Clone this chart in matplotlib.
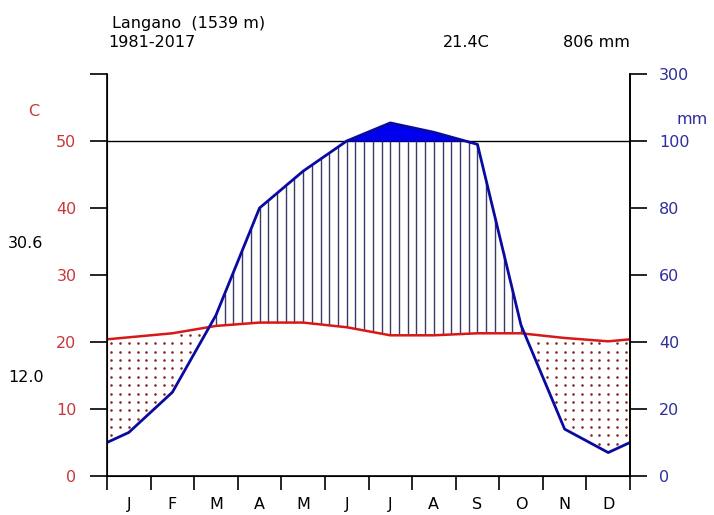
import matplotlib
matplotlib.use('Agg')
import matplotlib.pyplot as plt
import numpy as np

# Данные (Langano, 1981-2017)
months = ['J', 'F', 'M', 'A', 'M', 'J', 'J', 'A', 'S', 'O', 'N', 'D']
temp = [20.7, 21.3, 22.4, 22.9, 22.9, 22.2, 21.0, 21.0, 21.3, 21.3, 20.6, 20.1]
prec = [13, 25, 48, 80, 91, 100, 154, 126, 99, 45, 14, 7]
left_ticks = ['0', '10', '20', '30', '40', '50', '']
right_ticks = ['0', '20', '40', '60', '80', '100', '300']

plt.rcParams['font.family'] = ['DejaVu Sans']
tcol = '#C8373A'
pcol = '#2E2E9A'
fs = 11.5

def scale_p(p):
    p = np.asarray(p, float)
    return np.where(p <= 100, p / 2.0, 50 + (p - 100) / 20.0)

# Точки на серединах месяцев + края (среднее дек/янв)
xc = np.arange(12) + 0.5
x = np.concatenate([[0], xc, [12]])
t_edge = (temp[0] + temp[-1]) / 2
p_edge = (prec[0] + prec[-1]) / 2
t = np.concatenate([[t_edge], temp, [t_edge]])
p = scale_p(np.concatenate([[p_edge], prec, [p_edge]]))

fig = plt.figure(figsize=(7.14, 5.15), dpi=100)
ax = fig.add_axes([107 / 714, 1 - 476 / 515, 523 / 714, 402 / 515])
ax.set_xlim(0, 12)
ax.set_ylim(0, 60)

# Влажный период - вертикальные линии
xf = np.arange(0.1, 12, 0.2)
tf = np.interp(xf, x, t)
pf = np.interp(xf, x, p)
wet = pf > tf
ax.vlines(xf[wet], tf[wet], np.minimum(pf[wet], 50), color='#3A3A6A', lw=1.0, zorder=2)

# Выше 100 мм - сплошная заливка
xs = np.linspace(0, 12, 2401)
ps = np.interp(xs, x, p)
ax.fill_between(xs, 50, ps, where=ps > 50, color='#0000EE', lw=0, zorder=3)

# Засушливый период - точки
yd = np.arange(1.05, 30, 1.25)
dx, dy = np.meshgrid(xf, yd)
dt = np.interp(dx, x, t)
dp = np.interp(dx, x, p)
dry = (dy < dt - 0.4) & (dy > dp + 0.6)
ax.scatter(dx[dry], dy[dry], s=3.5, marker='o', color='#8B2525', lw=0, zorder=2)

ax.axhline(50, color='black', lw=1.0, zorder=1)
ax.plot(x, t, color='#D81818', lw=1.8, zorder=4)
ax.plot(x, p, color='#0A0AA0', lw=2, zorder=4)

ax.spines['top'].set_visible(False)
for s in ['left', 'right', 'bottom']:
    ax.spines[s].set_linewidth(1.2)

ax.set_yticks(np.arange(0, 61, 10))
ax.set_yticklabels(left_ticks, color=tcol, fontsize=fs)
ax.tick_params(axis='y', direction='out', length=12, width=1.2, pad=10)

ax.set_xticks(np.arange(0, 13))
ax.set_xticklabels([])
ax.set_xticks(xc, minor=True)
ax.set_xticklabels(months, minor=True, fontsize=fs)
ax.tick_params(axis='x', which='major', direction='out', length=10, width=1.2)
ax.tick_params(axis='x', which='minor', length=0, pad=15)

ax2 = ax.twinx()
ax2.set_ylim(0, 60)
ax2.set_position(ax.get_position())
ax2.spines['top'].set_visible(False)
ax2.spines['right'].set_linewidth(1.2)
ax2.set_yticks(np.arange(0, 61, 10))
ax2.set_yticklabels(right_ticks, color=pcol, fontsize=fs)
ax2.tick_params(axis='y', direction='out', length=12, width=1.2, pad=9)

def px(xp, yp):
    return xp / 714, 1 - yp / 515

fig.text(*px(112, 28), 'Langano  (1539 m)', fontsize=fs, va='baseline', ha='left')
fig.text(*px(108, 47), '1981-2017', fontsize=fs, va='baseline', ha='left')
fig.text(*px(443, 47), '21.4C', fontsize=fs, va='baseline', ha='left')
fig.text(*px(630, 47), '806 mm', fontsize=fs, va='baseline', ha='right')
fig.text(*px(34, 111), 'C', fontsize=fs, color=tcol, va='center', ha='center')
fig.text(*px(692, 119), 'mm', fontsize=fs, color=pcol, va='center', ha='center')
fig.text(*px(8, 243), '30.6', fontsize=fs, va='center', ha='left')
fig.text(*px(8, 378), '12.0', fontsize=fs, va='center', ha='left')

fig.savefig('out.png', dpi=100)
